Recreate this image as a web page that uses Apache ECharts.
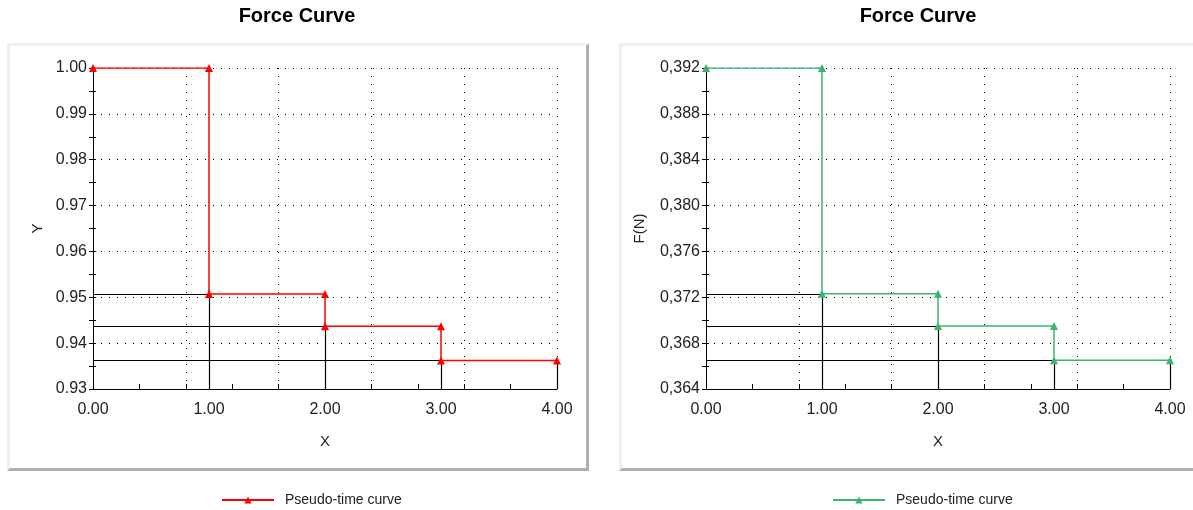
<!DOCTYPE html>
<html>
<head>
<meta charset="utf-8">
<script src="https://cdn.jsdelivr.net/npm/echarts@6/dist/echarts.min.js"></script>
<style>
  html, body { margin: 0; padding: 0; background: #fff; width: 1193px; height: 510px; overflow: hidden; }
  .panel {
    position: absolute; box-sizing: border-box; background: #fff;
    border-top: 3px solid #f0f0f0; border-left: 3px solid #f0f0f0;
    border-right: 3px solid #b0b0b0; border-bottom: 3px solid #b0b0b0;
  }
  .chart { position: absolute; top: 0; height: 510px; }
</style>
</head>
<body>
<div class="panel" style="left:7px;top:43px;width:582px;height:428px"></div>
<div class="panel" style="left:619px;top:43px;width:580px;height:428px"></div>
<div id="left" class="chart" style="left:0;width:600px"></div>
<div id="right" class="chart" style="left:600px;width:593px"></div>
<script>
// step curve points (x, value)
const stepX = [0, 1, 1, 2, 2, 3, 3, 4]
const yLeft = [1.0, 1.0, 0.9507, 0.9507, 0.9437, 0.9437, 0.9362, 0.9362]
const forceRight = [0.392, 0.392, 0.3723, 0.3723, 0.3695, 0.3695, 0.3665, 0.3665]

// black guide lines: horizontal from y axis, vertical down to x axis
const guideX = [1, 2, 3, 4]
const guideLeft = [0.9507, 0.9437, 0.9362, 0.9362]
const guideRight = [0.3723, 0.3695, 0.3665, 0.3665]

const xTicks = [0, 1, 2, 3, 4]
const font = 'Liberation Sans, Arial, sans-serif'

function makeOption(cfg) {
  const pts = stepX.map((x, i) => [x, cfg.values[i]])
  const guides = []
  guideX.forEach((x, i) => {
    const y = cfg.guides[i]
    if (i < guideX.length - 1) guides.push([{ coord: [0, y] }, { coord: [x, y] }])
    guides.push([{ coord: [x, y] }, { coord: [x, cfg.min] }])
  })
  const dotted = { show: true, lineStyle: { color: '#000', width: 1, type: [1, 7] } }
  return {
    animation: false,
    textStyle: { fontFamily: font },
    title: {
      text: 'Force Curve', left: cfg.titleX, top: 6, padding: 0, textAlign: 'center',
      textStyle: { fontFamily: font, fontSize: 20, fontWeight: 'bold', color: '#000' }
    },
    legend: {
      left: cfg.legendX, top: 493, itemWidth: 52, itemHeight: 9, padding: 0,
      data: ['Pseudo-time curve'],
      textStyle: { fontFamily: font, fontSize: 14, color: '#222', padding: [0, 0, 0, 6] }
    },
    grid: { left: cfg.gridLeft, top: 68, width: 464, height: 321, outerBoundsMode: 'none' },
    xAxis: [
      {
        type: 'value', min: 0, max: 4, interval: 0.8,
        axisLine: { show: true, lineStyle: { color: '#000', width: 1 } },
        axisTick: { show: true, inside: true, length: 5, lineStyle: { color: '#000' } },
        minorTick: { show: true, splitNumber: 2, length: 5, lineStyle: { color: '#000' } },
        axisLabel: { show: false },
        splitLine: dotted
      },
      {
        type: 'value', min: 0, max: 4, interval: 1, position: 'bottom',
        axisLine: { show: false }, axisTick: { show: false }, splitLine: { show: false },
        axisLabel: {
          margin: 13, fontSize: 16, color: '#222', fontFamily: font,
          formatter: (v) => xTicks.indexOf(Math.round(v)) >= 0 ? v.toFixed(2) : ''
        },
        name: 'X', nameLocation: 'middle', nameGap: 45,
        nameTextStyle: { fontSize: 15, color: '#222', fontFamily: font }
      }
    ],
    yAxis: [
      {
        type: 'value', min: cfg.min, max: cfg.max, interval: cfg.step,
        axisLine: { show: true, lineStyle: { color: '#000', width: 1 } },
        axisTick: { show: true, length: 4, lineStyle: { color: '#000' } },
        minorTick: { show: true, splitNumber: 2, length: 4, lineStyle: { color: '#000' } },
        axisLabel: { margin: 6, fontSize: 16, color: '#222', fontFamily: font, formatter: cfg.fmt },
        splitLine: dotted,
        name: cfg.yName, nameLocation: 'middle', nameGap: cfg.nameGap,
        nameTextStyle: { fontSize: 15, color: '#222', fontFamily: font }
      },
      {
        type: 'value', min: cfg.min, max: cfg.max, interval: cfg.step, position: 'left',
        axisLine: { show: false }, axisLabel: { show: false }, splitLine: { show: false },
        axisTick: { show: true, inside: true, length: 3, lineStyle: { color: '#000' } },
        minorTick: { show: true, splitNumber: 2, length: 3, lineStyle: { color: '#000' } }
      }
    ],
    series: [
      {
        type: 'line', data: [], silent: true,
        markLine: {
          silent: true, symbol: 'none', animation: false,
          label: { show: false },
          lineStyle: { color: '#000', width: 1.2, type: 'solid' },
          emphasis: { disabled: true },
          data: guides
        }
      },
      {
        name: 'Pseudo-time curve', type: 'line', data: pts,
        symbol: 'triangle', symbolSize: 8, showAllSymbol: true,
        lineStyle: { color: cfg.color, width: 1.5 },
        itemStyle: { color: cfg.color },
        z: 5
      }
    ]
  }
}

const leftChart = echarts.init(document.getElementById('left'))
leftChart.setOption(makeOption({
  values: yLeft, guides: guideLeft, min: 0.93, max: 1.0, step: 0.01,
  fmt: (v) => v.toFixed(2), yName: 'Y', nameGap: 47,
  color: '#ff0000', gridLeft: 93, titleX: 297, legendX: 221
}))

const rightChart = echarts.init(document.getElementById('right'))
rightChart.setOption(makeOption({
  values: forceRight, guides: guideRight, min: 0.364, max: 0.392, step: 0.004,
  fmt: (v) => v.toFixed(3).replace('.', ','), yName: 'F(N)', nameGap: 59,
  color: '#3cb371', gridLeft: 106, titleX: 318, legendX: 232
}))
</script>
</body>
</html>
